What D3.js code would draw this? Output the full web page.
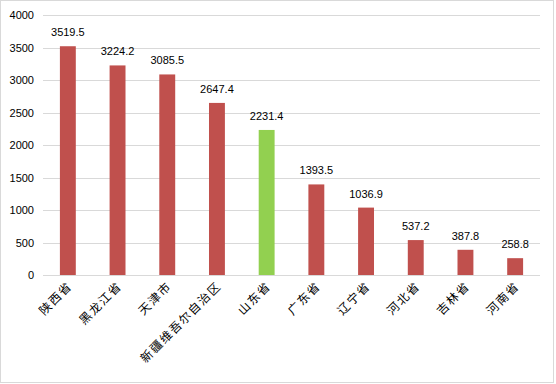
<!DOCTYPE html>
<html>
<head>
<meta charset="utf-8">
<script src="https://cdn.jsdelivr.net/npm/d3@7/dist/d3.min.js"></script>
<style>
  body { margin: 0; background: #fff; }
  svg { display: block; }
</style>
</head>
<body>
<div id="chart"></div>
<script>
// 数据
const provinces = ['陕西省', '黑龙江省', '天津市', '新疆维吾尔自治区', '山东省', '广东省', '辽宁省', '河北省', '吉林省', '河南省'];
const values = [3519.5, 3224.2, 3085.5, 2647.4, 2231.4, 1393.5, 1036.9, 537.2, 387.8, 258.8];
const yTicks = [0, 500, 1000, 1500, 2000, 2500, 3000, 3500, 4000];
const highlight = '山东省';

const width = 556, height = 384;
const margin = { top: 15, right: 16, bottom: 109, left: 43 };

const svg = d3.select('#chart').append('svg')
    .attr('width', width)
    .attr('height', height);

// 外边框
svg.append('rect')
    .attr('x', 0.5).attr('y', 0.5)
    .attr('width', 553).attr('height', 382)
    .attr('fill', '#fff')
    .attr('stroke', '#d9d9d9');

const x = d3.scaleBand()
    .domain(provinces)
    .range([margin.left, width - margin.right])
    .paddingInner(0.68)
    .paddingOuter(0.34);

const y = d3.scaleLinear()
    .domain([0, 4000])
    .range([height - margin.bottom, margin.top]);

// 网格线
svg.append('g')
    .selectAll('line')
    .data(yTicks)
    .enter().append('line')
    .attr('x1', margin.left)
    .attr('x2', width - margin.right)
    .attr('y1', d => Math.round(y(d)) + 0.5)
    .attr('y2', d => Math.round(y(d)) + 0.5)
    .attr('stroke', '#d9d9d9');

// y轴
const yAxis = svg.append('g')
    .attr('transform', `translate(${margin.left - 9},0)`)
    .call(d3.axisLeft(y).tickValues(yTicks).tickFormat(d3.format('d')).tickSize(0).tickPadding(0));
yAxis.select('.domain').remove();
yAxis.selectAll('text')
    .attr('font-family', 'Liberation Sans, Arial, sans-serif')
    .attr('font-size', 11)
    .attr('fill', '#000');

// 柱子
svg.append('g')
    .selectAll('rect')
    .data(provinces)
    .enter().append('rect')
    .attr('x', d => x(d))
    .attr('width', x.bandwidth())
    .attr('y', (d, i) => y(values[i]))
    .attr('height', (d, i) => y(0) - y(values[i]))
    .attr('fill', d => d === highlight ? '#92d050' : '#c0504d');

// 数值标签
svg.append('g')
    .selectAll('text')
    .data(provinces)
    .enter().append('text')
    .attr('x', d => x(d) + x.bandwidth() / 2)
    .attr('y', (d, i) => y(values[i]) - 10)
    .attr('text-anchor', 'middle')
    .attr('font-family', 'Liberation Sans, Arial, sans-serif')
    .attr('font-size', 11)
    .attr('fill', '#000')
    .text((d, i) => values[i]);

// x轴标签
svg.append('g')
    .selectAll('text')
    .data(provinces)
    .enter().append('text')
    .attr('transform', d => `translate(${x(d) + x.bandwidth() / 2 + 5},${y(0) + 12}) rotate(-45)`)
    .attr('text-anchor', 'end')
    .attr('font-family', 'Noto Sans CJK SC, sans-serif')
    .attr('font-size', 12)
    .attr('letter-spacing', 1.5)
    .attr('fill', '#000')
    .text(d => d);
</script>
</body>
</html>
